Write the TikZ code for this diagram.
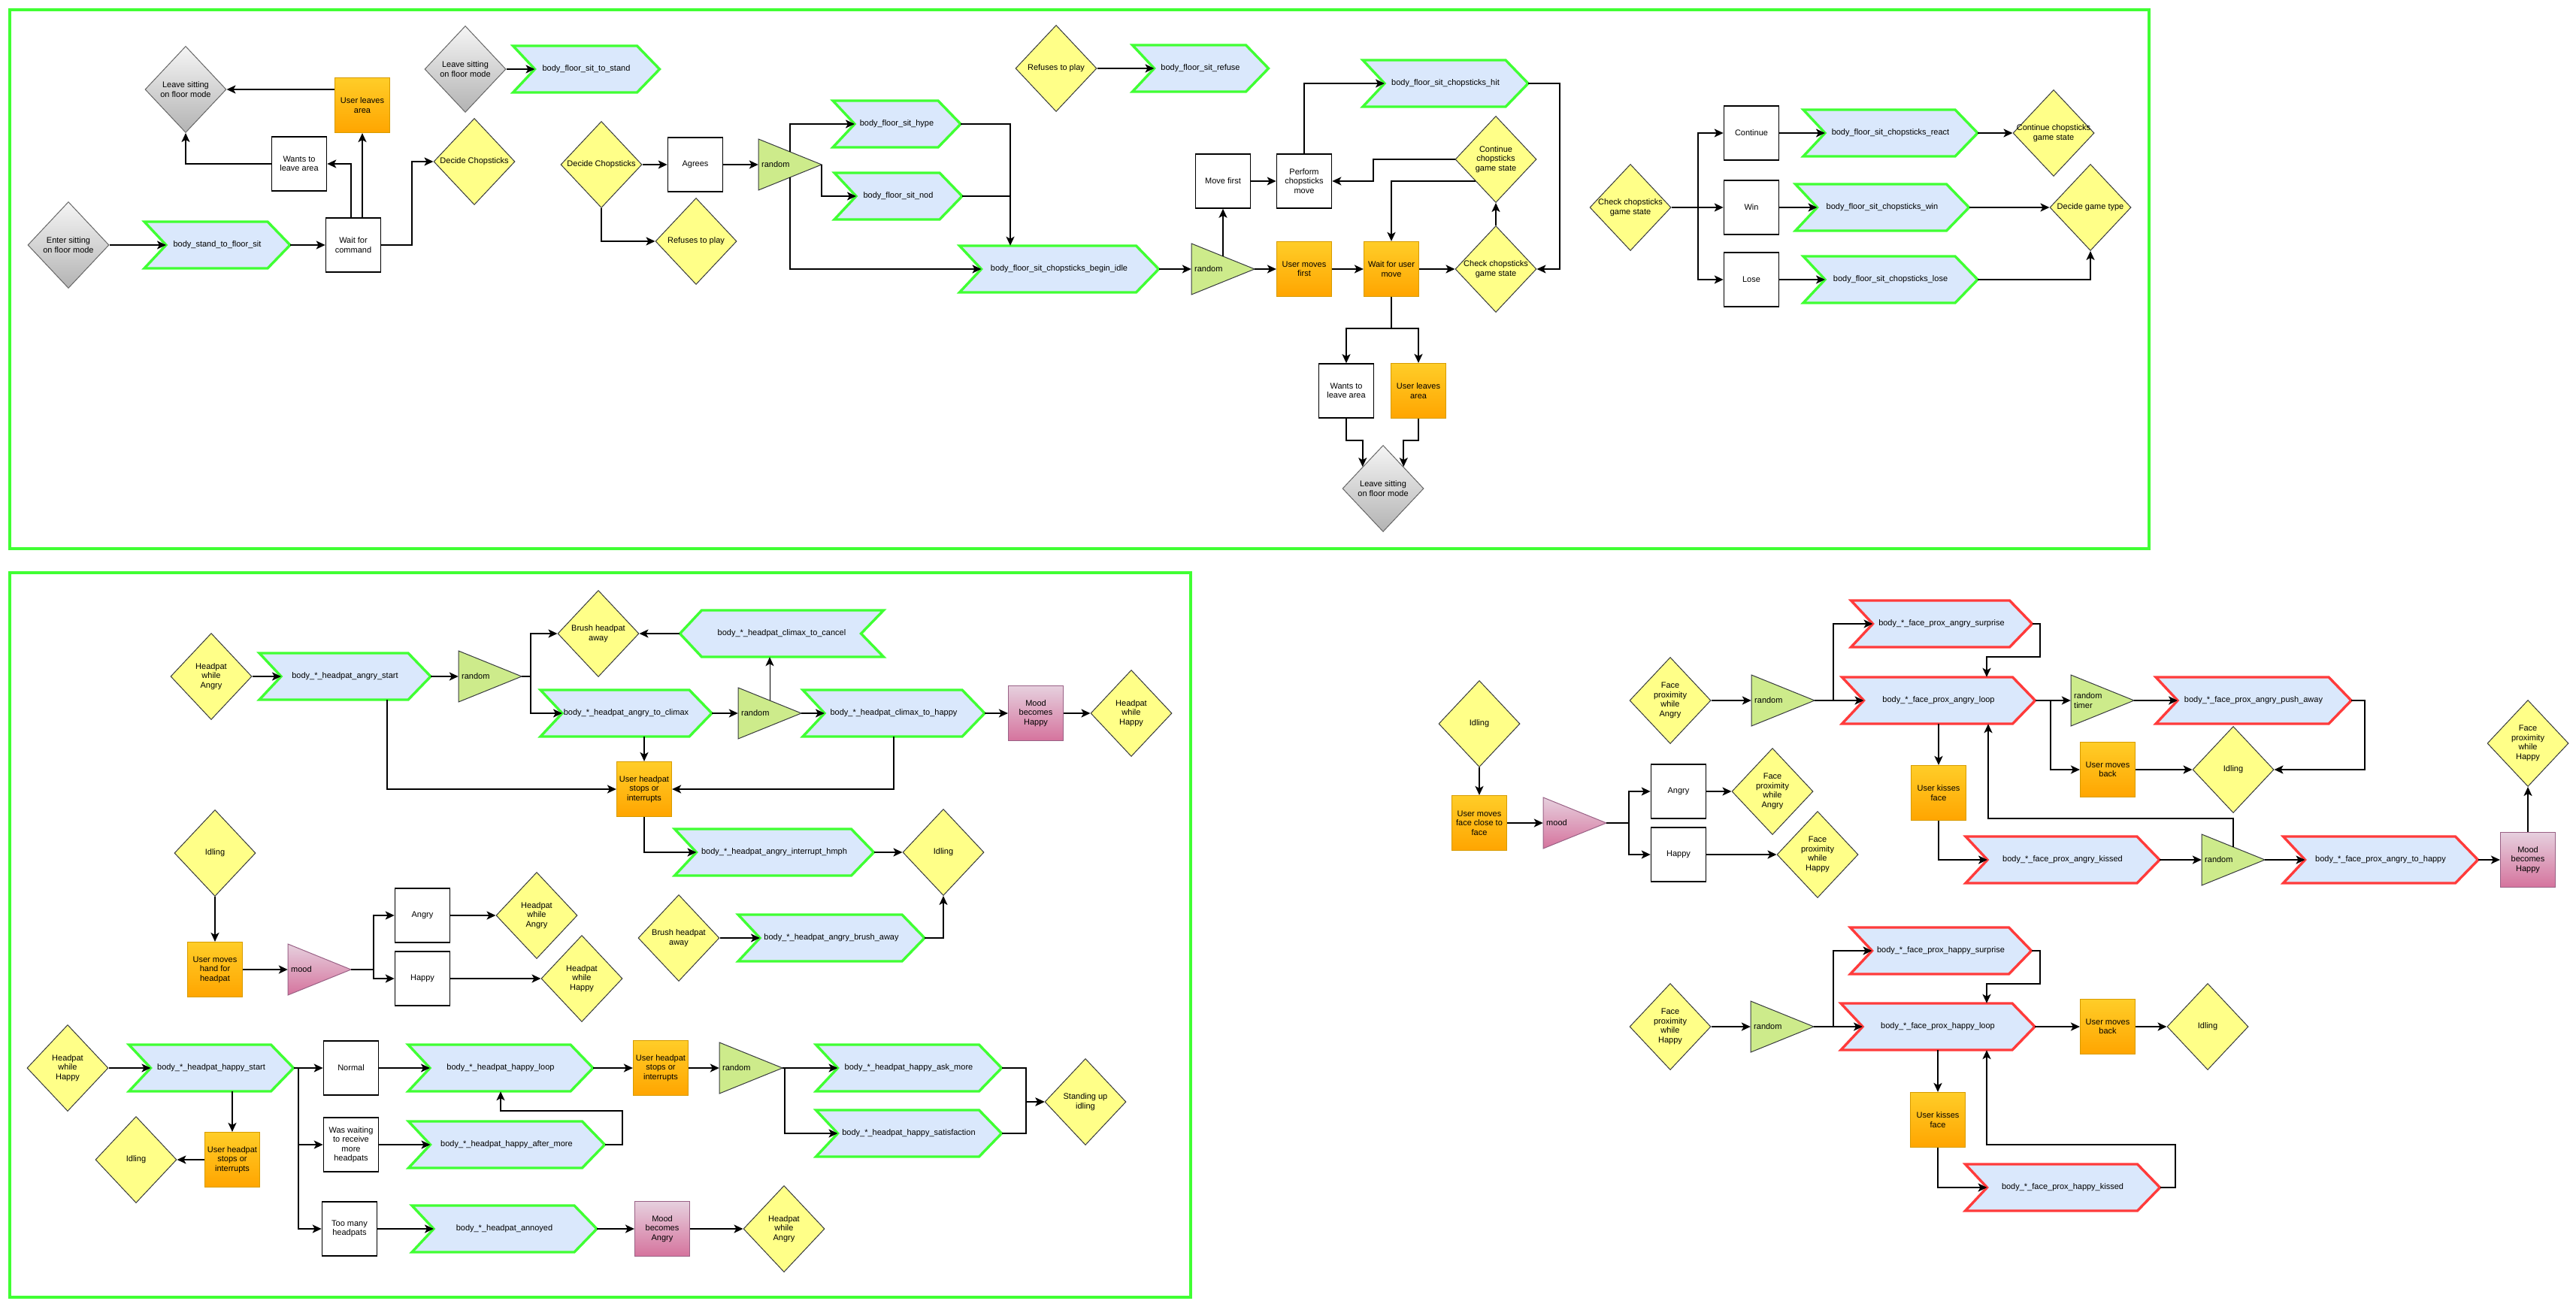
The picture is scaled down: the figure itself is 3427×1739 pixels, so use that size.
\documentclass[tikz,border=0pt]{standalone}
\usepackage{fontspec}
\setmainfont{Liberation Sans}
\usetikzlibrary{shapes.geometric,arrows.meta,calc}
\definecolor{chevfill}{HTML}{DAE8FC}
\definecolor{frgreen}{HTML}{40FF33}
\definecolor{chred}{HTML}{FF3B3B}
\definecolor{yfill}{HTML}{FFFF88}
\definecolor{ydraw}{HTML}{36393D}
\definecolor{gtop}{HTML}{F5F5F5}
\definecolor{gbot}{HTML}{B3B3B3}
\definecolor{gdraw}{HTML}{666666}
\definecolor{otop}{HTML}{FFCD28}
\definecolor{obot}{HTML}{FFA500}
\definecolor{odraw}{HTML}{D79B00}
\definecolor{ptop}{HTML}{E6D0DE}
\definecolor{pbot}{HTML}{D5739D}
\definecolor{pdraw}{HTML}{996185}
\definecolor{trifill}{HTML}{CDEB8B}
\tikzset{
  txt/.style={font=\fontsize{11}{12.5}\selectfont, align=center, inner sep=0pt, text=black},
  box/.style={txt, rectangle, draw=black, line width=1.6pt, fill=white, minimum width=73pt, minimum height=72pt},
  obox/.style={txt, rectangle, draw=odraw, line width=1.2pt, top color=otop, bottom color=obot, minimum width=73pt, minimum height=73pt},
  pbox/.style={txt, rectangle, draw=pdraw, line width=1.2pt, top color=ptop, bottom color=pbot, minimum width=73pt, minimum height=73pt},
  ydia/.style={diamond, draw=ydraw, line width=1pt, fill=yfill, minimum width=108pt, minimum height=115pt, inner sep=0pt},
  gdia/.style={diamond, draw=gdraw, line width=1pt, top color=gtop, bottom color=gbot, minimum width=108pt, minimum height=115pt, inner sep=0pt},
  chevbase/.style={fill=chevfill, line width=3.4pt, line join=miter},
  frame/.style={draw=frgreen, line width=4.5pt},
  arr/.style={draw=black, line width=2pt, -{Stealth[length=12pt, width=11pt, inset=3pt]}},
  ln/.style={draw=black, line width=2pt},
  rndtri/.style={fill=trifill, draw=ydraw},
  moodtri/.style={top color=ptop, bottom color=pbot, draw=pdraw},
}
% right-pointing chevron: name, cx, cy, width, border colour, text
\newcommand{\chvR}[6]{%
  \path[chevbase, draw=#5] ({#2-#4/2},{#3-31}) -- ({#2+#4/2-30},{#3-31}) -- ({#2+#4/2},{#3}) -- ({#2+#4/2-30},{#3+31}) -- ({#2-#4/2},{#3+31}) -- ({#2-#4/2+29},{#3}) -- cycle;
  \node[txt, minimum width=#4pt, minimum height=62pt] (#1) at (#2,#3) {#6};
  \coordinate (#1-n) at ({#2-#4/2+29},{#3});
}
% left-pointing chevron
\newcommand{\chvL}[6]{%
  \path[chevbase, draw=#5] ({#2-#4/2},{#3}) -- ({#2-#4/2+29},{#3-31}) -- ({#2+#4/2},{#3-31}) -- ({#2+#4/2-30},{#3}) -- ({#2+#4/2},{#3+31}) -- ({#2-#4/2+29},{#3+31}) -- cycle;
  \node[txt, minimum width=#4pt, minimum height=62pt] (#1) at (#2,#3) {#6};
}
% triangle: name, cx, cy, style, text
\newcommand{\trishape}[5]{%
  \path[draw=ydraw, line width=1pt, #4] ({#2-42},{#3-34}) -- ({#2+42},{#3}) -- ({#2-42},{#3+34}) -- cycle;
  \node[minimum width=84pt, minimum height=68pt, inner sep=0pt] (#1) at (#2,#3) {};
  \node[txt, anchor=west, align=left] (#1-t) at ({#2-38},{#3}) {#5};
}
% diamond: style, name, x, y, text
\newcommand{\dnode}[5]{%
  \node[#1] (#2) at (#3,#4) {};
  \node[txt] (#2-t) at (#2.center) {#5};
}
\begin{document}
\begin{tikzpicture}[x=1pt,y=-1pt]
\useasboundingbox (0,0) rectangle (3427,1739);
\draw[frame] (13,13) rectangle (2859,730);
\draw[frame] (13,762) rectangle (1584,1726);

% ---------------- top section
\dnode{gdia}{enter}{91}{326}{Enter sitting\\on floor mode}
\chvR{stand2sit}{289}{326}{194}{frgreen}{body\_stand\_to\_floor\_sit}
\node[box] (waitcmd) at (470,326) {Wait for\\command};
\node[box] (wantleave1) at (398,218) {Wants to\\leave area};
\node[obox] (userleaves1) at (482,140) {User leaves\\area};
\dnode{gdia}{leave1}{247}{119}{Leave sitting\\on floor mode}
\dnode{ydia}{decide1}{631}{215}{Decide Chopsticks}
\dnode{gdia}{leave2}{619}{92}{Leave sitting\\on floor mode}
\chvR{sit2stand}{780}{92}{195}{frgreen}{body\_floor\_sit\_to\_stand}
\dnode{ydia}{decide2}{800}{219}{Decide Chopsticks}
\dnode{ydia}{refuse2}{926}{321}{Refuses to play}
\node[box] (agrees) at (925,219) {Agrees};
\trishape{random1}{1051}{219}{rndtri}{random}
\chvR{hype}{1193}{165}{170}{frgreen}{body\_floor\_sit\_hype}
\chvR{nod}{1195}{261}{170}{frgreen}{body\_floor\_sit\_nod}
\chvR{beginidle}{1409}{358}{265}{frgreen}{body\_floor\_sit\_chopsticks\_begin\_idle}
\dnode{ydia}{refuse1}{1405}{91}{Refuses to play}
\chvR{refusechev}{1597}{91}{181}{frgreen}{body\_floor\_sit\_refuse}
\trishape{random2}{1627}{358}{rndtri}{random}
\node[box] (movefirst) at (1627,241) {Move first};
\node[box] (perform) at (1735,241) {Perform\\chopsticks\\move};
\chvR{hit}{1923}{111}{220}{frgreen}{body\_floor\_sit\_chopsticks\_hit}
\node[obox] (userfirst) at (1735,358) {User moves\\first};
\node[obox] (waituser) at (1851,358) {Wait for user\\move};
\dnode{ydia}{checkstate1}{1990}{358}{Check chopsticks\\game state}
\dnode{ydia}{continue1}{1990}{212}{Continue\\chopsticks\\game state}
\node[box] (wantleave2) at (1791,520) {Wants to\\leave area};
\node[obox] (userleaves2) at (1887,520) {User leaves\\area};
\dnode{gdia}{leave3}{1840}{650}{Leave sitting\\on floor mode}
\dnode{ydia}{checkstate2}{2169}{276}{Check chopsticks\\game state}
\node[box] (contbox) at (2330,177) {Continue};
\node[box] (winbox) at (2330,276) {Win};
\node[box] (losebox) at (2330,372) {Lose};
\chvR{react}{2515}{177}{232}{frgreen}{body\_floor\_sit\_chopsticks\_react}
\chvR{win}{2504}{276}{231}{frgreen}{body\_floor\_sit\_chopsticks\_win}
\chvR{lose}{2515}{372}{232}{frgreen}{body\_floor\_sit\_chopsticks\_lose}
\dnode{ydia}{continue2}{2732}{177}{Continue chopsticks\\game state}
\dnode{ydia}{decidegame}{2781}{276}{Decide game type}

\draw[arr] (enter.east) -- (stand2sit-n);
\draw[arr] (stand2sit.east) -- (waitcmd.west);
\draw[arr] ([xshift=-3pt]waitcmd.north) |- (wantleave1.east);
\draw[arr] (waitcmd.north -| userleaves1.south) -- (userleaves1.south);
\draw[arr] (wantleave1.west) -| (leave1.south);
\draw[arr] (userleaves1.west |- leave1.east) -- (leave1.east);
\draw[arr] (waitcmd.east) -- ++(41,0) |- (decide1.west);
\draw[arr] (leave2.east) -- (sit2stand-n);
\draw[arr] (decide2.east) -- (agrees.west);
\draw[arr] (decide2.south) |- (refuse2.west);
\draw[arr] (agrees.east) -- (random1.west);
\coordinate (r1top) at ([yshift=17pt]random1.center);
\coordinate (r1bot) at ([yshift=-17pt]random1.center);
\draw[arr] (r1top) |- (hype-n);
\draw[arr] (random1.east) |- (nod-n);
\draw[arr] (r1bot) |- (beginidle-n);
\coordinate (jx1) at (1344,0);
\draw[arr] (hype.east) -| (jx1 |- beginidle.north);
\draw[ln] (nod.east) -- (jx1 |- nod.east);
\draw[arr] (refuse1.east) -- (refusechev-n);
\draw[arr] (beginidle.east) -- (random2.west);
\coordinate (r2top) at ([yshift=17pt]random2.center);
\draw[arr] (r2top) -- (movefirst.south);
\draw[arr] (random2.east) -- (userfirst.west);
\draw[arr] (userfirst.east) -- (waituser.west);
\draw[arr] (waituser.east) -- (checkstate1.west);
\draw[arr] (movefirst.east) -- (perform.west);
\draw[arr] (perform.north) |- (hit-n);
\draw[arr] (hit.east) -- ++(42,0) |- (checkstate1.east);
\draw[arr] (checkstate1.north) -- (continue1.south);
\draw[arr] (continue1.west) -- ++(-109,0) |- (perform.east);
\draw[arr] (continue1.south west) -| (waituser.north);
\draw[arr] (waituser.south) -- ++(0,42) -| (wantleave2.north);
\draw[arr] (waituser.south) -- ++(0,42) -| (userleaves2.north);
\draw[arr] (wantleave2.south) -- ++(0,29) -| (leave3.north west);
\draw[arr] (userleaves2.south) -- ++(0,29) -| (leave3.north east);
\draw[arr] (checkstate2.east) -- ++(35,0) |- (contbox.west);
\draw[arr] (checkstate2.east) -- (winbox.west);
\draw[arr] (checkstate2.east) -- ++(35,0) |- (losebox.west);
\draw[arr] (contbox.east) -- (react-n);
\draw[arr] (winbox.east) -- (win-n);
\draw[arr] (losebox.east) -- (lose-n);
\draw[arr] (react.east) -- (continue2.west);
\draw[arr] (win.east) -- (decidegame.west);
\draw[arr] (lose.east) -| (decidegame.south);

% ---------------- bottom-left section
\dnode{ydia}{hpAngry1}{281}{900}{Headpat\\while\\Angry}
\chvR{angrystart}{459}{900}{228}{frgreen}{body\_*\_headpat\_angry\_start}
\trishape{random3}{652}{900}{rndtri}{random}
\dnode{ydia}{brush1}{796}{843}{Brush headpat\\away}
\chvL{cancel}{1040}{843}{271}{frgreen}{body\_*\_headpat\_climax\_to\_cancel}
\chvR{climax}{833}{949}{228}{frgreen}{body\_*\_headpat\_angry\_to\_climax}
\trishape{random4}{1024}{949}{rndtri}{random}
\chvR{tohappy}{1189}{949}{242}{frgreen}{body\_*\_headpat\_climax\_to\_happy}
\node[pbox] (moodhappy) at (1378,949) {Mood\\becomes\\Happy};
\dnode{ydia}{hpHappy1}{1505}{949}{Headpat\\while\\Happy}
\node[obox] (userstop1) at (857,1050) {User headpat\\stops or\\interrupts};
\chvR{hmph}{1030}{1134}{265}{frgreen}{body\_*\_headpat\_angry\_interrupt\_hmph}
\dnode{ydia}{idling1}{1255}{1134}{Idling}
\dnode{ydia}{brush2}{903}{1248}{Brush headpat\\away}
\chvR{brushaway}{1106}{1248}{248}{frgreen}{body\_*\_headpat\_angry\_brush\_away}
\dnode{ydia}{idling2}{286}{1135}{Idling}
\node[obox] (userhand) at (286,1290) {User moves\\hand for\\headpat};
\trishape{mood1}{425}{1290}{moodtri}{mood}
\node[box] (angrybox) at (562,1218) {Angry};
\node[box] (happybox) at (562,1302) {Happy};
\dnode{ydia}{hpAngry2}{714}{1218}{Headpat\\while\\Angry}
\dnode{ydia}{hpHappy2}{774}{1302}{Headpat\\while\\Happy}
\dnode{ydia}{hpHappy3}{90}{1421}{Headpat\\while\\Happy}
\chvR{happystart}{281}{1421}{219}{frgreen}{body\_*\_headpat\_happy\_start}
\node[box] (normal) at (467,1421) {Normal};
\node[box] (waswaiting) at (467,1523) {Was waiting\\to receive\\more\\headpats};
\node[box] (toomany) at (465,1635) {Too many\\headpats};
\chvR{loop}{666}{1421}{246}{frgreen}{body\_*\_headpat\_happy\_loop}
\chvR{aftermore}{674}{1523}{261}{frgreen}{body\_*\_headpat\_happy\_after\_more}
\node[obox] (userstop2) at (879,1421) {User headpat\\stops or\\interrupts};
\trishape{random5}{999}{1421}{rndtri}{random}
\chvR{askmore}{1209}{1421}{247}{frgreen}{body\_*\_headpat\_happy\_ask\_more}
\chvR{satisf}{1209}{1508}{247}{frgreen}{body\_*\_headpat\_happy\_satisfaction}
\dnode{ydia}{standing}{1444}{1466}{Standing up\\idling}
\node[obox] (userstop3) at (309,1543) {User headpat\\stops or\\interrupts};
\dnode{ydia}{idling3}{181}{1543}{Idling}
\chvR{annoyed}{671}{1635}{246}{frgreen}{body\_*\_headpat\_annoyed}
\node[pbox] (moodangry) at (881,1635) {Mood\\becomes\\Angry};
\dnode{ydia}{hpAngry3}{1043}{1635}{Headpat\\while\\Angry}

\draw[arr] (hpAngry1.east) -- (angrystart-n);
\draw[arr] (angrystart.east) -- (random3.west);
\draw[arr] (random3.east) -- ++(12,0) |- (brush1.west);
\draw[arr] (random3.east) -- ++(12,0) |- (climax-n);
\draw[arr] (cancel.west) -- (brush1.east);
\draw[arr] (climax.east) -- (random4.west);
\coordinate (r4top) at ([yshift=17pt]random4.center);
\draw[arr, line width=1pt] (r4top) -- (r4top |- cancel.south);
\draw[arr] (random4.east) -- (tohappy-n);
\draw[arr] (tohappy.east) -- (moodhappy.west);
\draw[arr] (moodhappy.east) -- (hpHappy1.west);
\draw[arr] ([xshift=56pt]angrystart.south) |- (userstop1.west);
\draw[arr] (climax.south -| userstop1.north) -- (userstop1.north);
\draw[arr] (tohappy.south) |- (userstop1.east);
\draw[arr] (userstop1.south) |- (hmph-n);
\draw[arr] (hmph.east) -- (idling1.west);
\draw[arr] (brush2.east) -- (brushaway-n);
\draw[arr] (brushaway.east) -| (idling1.south);
\draw[arr] (idling2.south) -- (userhand.north);
\draw[arr] (userhand.east) -- (mood1.west);
\draw[arr] (mood1.east) -- ++(30,0) |- (angrybox.west);
\draw[arr] (mood1.east) -- ++(30,0) |- (happybox.west);
\draw[arr] (angrybox.east) -- (hpAngry2.west);
\draw[arr] (happybox.east) -- (hpHappy2.west);
\draw[arr] (hpHappy3.east) -- (happystart-n);
\draw[arr] (happystart.east) -- (normal.west);
\draw[arr] (happystart.east) -- ++(6,0) |- (waswaiting.west);
\draw[arr] (happystart.east) -- ++(6,0) |- (toomany.west);
\draw[arr] (normal.east) -- (loop-n);
\draw[arr] (waswaiting.east) -- (aftermore-n);
\draw[arr] (toomany.east) -- (annoyed-n);
\draw[arr] (aftermore.east) -- ++(23,0) -- ++(0,-45) -| (loop.south);
\draw[arr] (loop.east) -- (userstop2.west);
\draw[arr] (userstop2.east) -- (random5.west);
\draw[arr] (random5.east) -- (askmore-n);
\draw[arr] (random5.east) -- ++(3,0) |- (satisf-n);
\draw[arr] (askmore.east) -- ++(32,0) |- (standing.west);
\draw[arr] (satisf.east) -- ++(32,0) |- (standing.west);
\draw[arr] (happystart.south -| userstop3.north) -- (userstop3.north);
\draw[arr] (userstop3.west) -- (idling3.east);
\draw[arr] (annoyed.east) -- (moodangry.west);
\draw[arr] (moodangry.east) -- (hpAngry3.west);

% ---------------- right section
\dnode{ydia}{idling4}{1968}{963}{Idling}
\node[obox] (userface) at (1968,1095) {User moves\\face close to\\face};
\trishape{mood2}{2095}{1095}{moodtri}{mood}
\node[box] (angry2) at (2233,1053) {Angry};
\node[box] (happy2) at (2233,1137) {Happy};
\dnode{ydia}{fpAngry1}{2358}{1053}{Face\\proximity\\while\\Angry}
\dnode{ydia}{fpHappy1}{2418}{1137}{Face\\proximity\\while\\Happy}
\dnode{ydia}{fpAngry2}{2222}{932}{Face\\proximity\\while\\Angry}
\trishape{random6}{2372}{932}{rndtri}{random}
\chvR{surprise}{2583}{830}{241}{chred}{body\_*\_face\_prox\_angry\_surprise}
\chvR{angryloop}{2579}{932}{257}{chred}{body\_*\_face\_prox\_angry\_loop}
\trishape{rtimer}{2797}{932}{rndtri}{random\\timer}
\chvR{pushaway}{2998}{932}{260}{chred}{body\_*\_face\_prox\_angry\_push\_away}
\node[obox] (umb1) at (2804,1024) {User moves\\back};
\dnode{ydia}{idling5}{2971}{1024}{Idling}
\node[obox] (userkiss1) at (2579,1055) {User kisses\\face};
\chvR{kissed}{2744}{1144}{258}{chred}{body\_*\_face\_prox\_angry\_kissed}
\trishape{random7}{2971}{1144}{rndtri}{random}
\chvR{tohappy2}{3167}{1144}{259}{chred}{body\_*\_face\_prox\_angry\_to\_happy}
\node[pbox] (moodhappy2) at (3363,1144) {Mood\\becomes\\Happy};
\dnode{ydia}{fpHappy2}{3363}{989}{Face\\proximity\\while\\Happy}
\dnode{ydia}{fpHappy3}{2222}{1366}{Face\\proximity\\while\\Happy}
\trishape{random8}{2371}{1366}{rndtri}{random}
\chvR{hsurprise}{2582}{1265}{241}{chred}{body\_*\_face\_prox\_happy\_surprise}
\chvR{happyloop}{2578}{1366}{258}{chred}{body\_*\_face\_prox\_happy\_loop}
\node[obox] (umb2) at (2804,1366) {User moves\\back};
\dnode{ydia}{idling6}{2937}{1366}{Idling}
\node[obox] (userkiss2) at (2578,1490) {User kisses\\face};
\chvR{hkissed}{2744}{1580}{259}{chred}{body\_*\_face\_prox\_happy\_kissed}

\draw[arr] (idling4.south) -- (userface.north);
\draw[arr] (userface.east) -- (mood2.west);
\draw[arr] (mood2.east) -- ++(30,0) |- (angry2.west);
\draw[arr] (mood2.east) -- ++(30,0) |- (happy2.west);
\draw[arr] (angry2.east) -- (fpAngry1.west);
\draw[arr] (happy2.east) -- (fpHappy1.west);
\draw[arr] (fpAngry2.east) -- (random6.west);
\draw[arr] (random6.east) -- (angryloop-n);
\draw[arr] (random6.east) -- ++(25,0) |- (surprise-n);
\draw[arr] (surprise.east) -- ++(10,0) -- ++(0,44) -| ([xshift=64pt]angryloop.north);
\draw[arr] (angryloop.east) -- (rtimer.west);
\draw[arr] (angryloop.east) -- ++(20,0) |- (umb1.west);
\draw[arr] (rtimer.east) -- (pushaway-n);
\draw[arr] (pushaway.east) -- ++(18,0) |- (idling5.east);
\draw[arr] (umb1.east) -- (idling5.west);
\draw[arr] (angryloop.south) -- (userkiss1.north);
\draw[arr] (userkiss1.south) |- (kissed-n);
\draw[arr] (kissed.east) -- (random7.west);
\coordinate (r7top) at ([yshift=17pt]random7.center);
\draw[arr] (r7top) -- ++(0,-38) -| ([xshift=66pt]angryloop.south);
\draw[arr] (random7.east) -- (tohappy2-n);
\draw[arr] (tohappy2.east) -- (moodhappy2.west);
\draw[arr] (moodhappy2.north) -- (fpHappy2.south);
\draw[arr] (fpHappy3.east) -- (random8.west);
\draw[arr] (random8.east) -- (happyloop-n);
\draw[arr] (random8.east) -- ++(26,0) |- (hsurprise-n);
\draw[arr] (hsurprise.east) -- ++(11,0) -- ++(0,44) -| ([xshift=65pt]happyloop.north);
\draw[arr] (happyloop.east) -- (umb2.west);
\draw[arr] (umb2.east) -- (idling6.west);
\draw[arr] (happyloop.south) -- (userkiss2.north);
\draw[arr] (userkiss2.south) |- (hkissed-n);
\draw[arr] (hkissed.east) -- ++(20,0) -- ++(0,-57) -| ([xshift=65pt]happyloop.south);
\end{tikzpicture}
\end{document}
